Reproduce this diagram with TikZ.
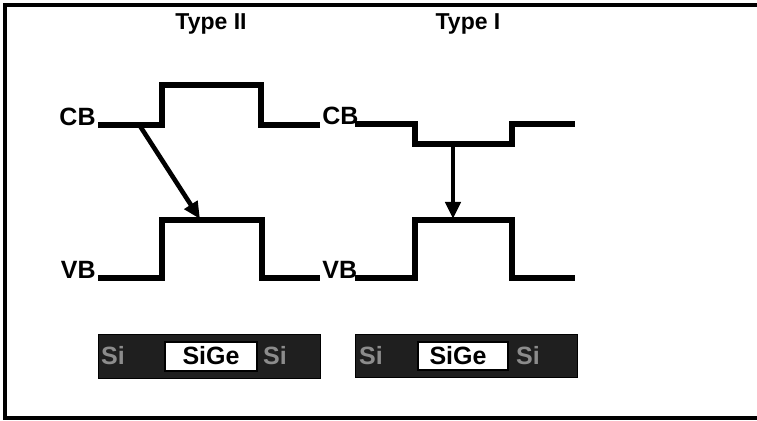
\documentclass[tikz,border=0pt]{standalone}
\usepackage{fontspec}
\setmainfont{Liberation Sans}
\usetikzlibrary{positioning, calc, arrows.meta}

\tikzset{
    band/.style={line width=2.6pt, line join=miter},
    trans/.style={line width=2.3pt, -{Triangle[length=8.5pt, width=7.5pt]}},
    lbl/.style={font=\fontsize{12.5}{14}\selectfont\bfseries, inner sep=0pt},
    ttl/.style={font=\fontsize{11.5}{13}\selectfont\bfseries, inner sep=0pt, anchor=base},
    layer/.style={fill=black!88, draw=black},
    well/.style={fill=white, draw=black, line width=0.8pt}
}

\begin{document}
\begin{tikzpicture}[x=0.5pt, y=-0.5pt]
    \useasboundingbox (0,0) rectangle (757,421);
    % frame
    \draw[line width=1.6pt] (760,5) -- (5,5) -- (5,418) -- (760,418);

    % titles
    \node[ttl] (t2) at (211,30) {Type II};
    \node[ttl] (t1) at (468,30) {Type I};

    % Type II bands
    \draw[band] (98,125) -- (162,125) -- (162,85) -- (261,85) -- (261,125) -- (320,125);
    \draw[band] (98,278) -- (162,278) -- (162,220) -- (262,220) -- (262,278) -- (320,278);
    \node[lbl, anchor=base east] (cb2) at (96,126) {CB};
    \node[lbl, anchor=base east] (vb2) at (96,279) {VB};
    \coordinate (e2) at (140,126);
    \coordinate (h2) at (200,219);
    \draw[trans] (e2) -- (h2);

    % Type I bands
    \draw[band] (355,124) -- (415,124) -- (415,144) -- (512,144) -- (512,124) -- (575,124);
    \draw[band] (355,278) -- (415,278) -- (415,220) -- (512,220) -- (512,278) -- (575,278);
    \node[lbl, anchor=base west] (cb1) at (322,125) {CB};
    \node[lbl, anchor=base west] (vb1) at (322,279) {VB};
    \coordinate (e1) at (453,145);
    \coordinate (h1) at (453,219);
    \draw[trans] (e1) -- (h1);

    % layer stacks
    \fill[layer] (98,334) rectangle (320,378);
    \draw[well] (165,342) rectangle (257,371);
    \node[lbl] (sg2) at (211,356) {SiGe};
    \node[lbl, text=black!45] (sl2) at (113,356) {Si};
    \node[lbl, text=black!45] (sr2) at (275,356) {Si};

    \fill[layer] (355,334) rectangle (577,377);
    \draw[well] (418,342) rectangle (508,370);
    \node[lbl] (sg1) at (458,356) {SiGe};
    \node[lbl, text=black!45] (sl1) at (371,356) {Si};
    \node[lbl, text=black!45] (sr1) at (528,356) {Si};
\end{tikzpicture}
\end{document}
